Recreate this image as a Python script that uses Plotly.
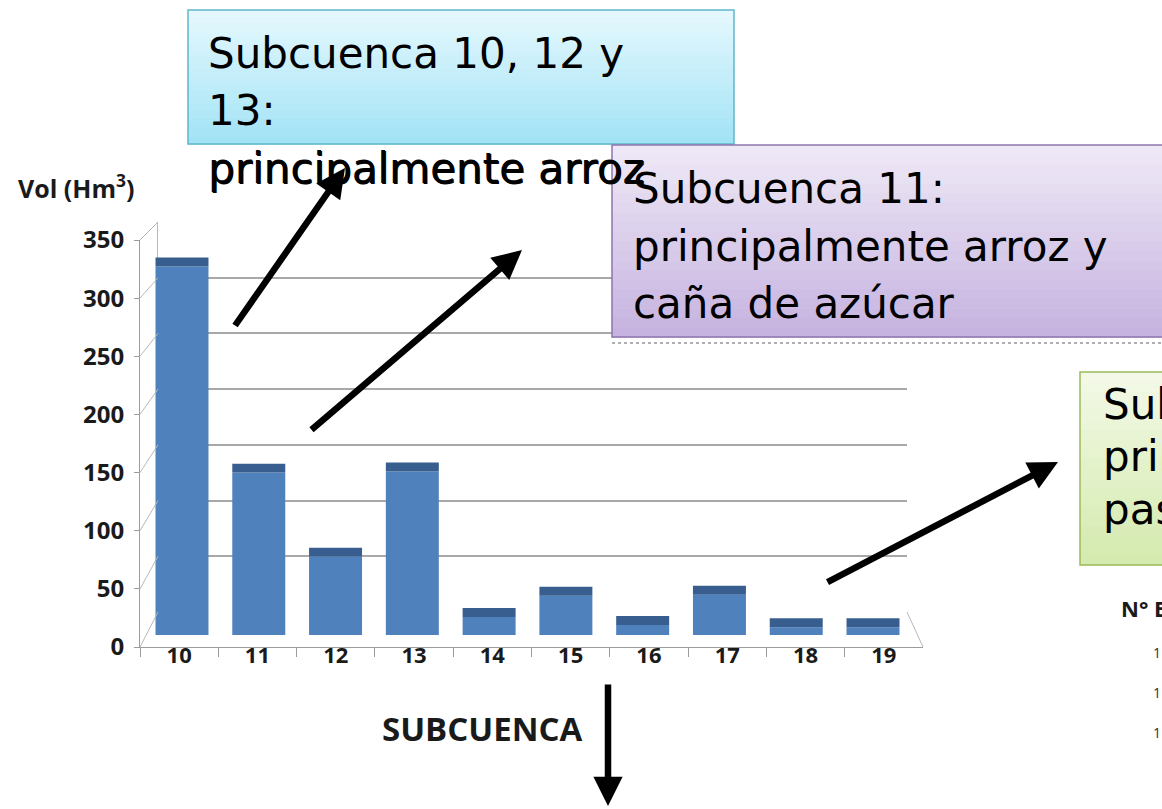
import plotly.graph_objects as go

# ---------------- data ----------------
subcuencas = ["10", "11", "12", "13", "14", "15", "16", "17", "18", "19"]
volumen = [329, 145, 70, 146, 16, 35, 9, 36, 7, 7]          # Vol (Hm3)
y_ticks = [0, 50, 100, 150, 200, 250, 300, 350]

box1_lines = ["Subcuenca 10, 12 y", "13:"]
box1_tail = "principalmente arroz"
box2_lines = ["Subcuenca 11:", "principalmente arroz y", "caña de azúcar"]
box3_lines = ["Subcuenca 14 a 19:", "principalmente", "pastos"]

# ---------------- helpers ----------------
W, H = 1162, 809
def px(x):
    return x / W
def py(y):
    return 1 - y / H

CAP = 8            # thickness of the bar top (style)
FRONT = "#4F81BD"
TOP = "#385E8F"
GRID = "#A8A8A8"
AX = "#9C9C9C"

fig = go.Figure()

fig.add_trace(go.Scatter(x=subcuencas, y=[None] * len(subcuencas), xaxis="x", yaxis="y",
                         mode="markers", showlegend=False, hoverinfo="skip"))
fig.add_trace(go.Bar(x=subcuencas, y=volumen, xaxis="x2", yaxis="y2", width=0.69,
                     marker=dict(color=FRONT, line=dict(width=0)), showlegend=False))
fig.add_trace(go.Bar(x=subcuencas, y=[CAP] * len(subcuencas), base=volumen, xaxis="x2", yaxis="y2",
                     width=0.69, marker=dict(color=TOP, line=dict(width=0)), showlegend=False,
                     hoverinfo="skip"))
fig.add_trace(go.Scatter(x=subcuencas, y=[None] * len(subcuencas), xaxis="x3", yaxis="y3",
                         mode="markers", showlegend=False, hoverinfo="skip"))

ytick_font = dict(family="Open Sans", size=24, color="#1a1a1a", weight="bold")
xtick_font = dict(family="Open Sans", size=22, color="#1a1a1a", weight="bold")

fig.update_layout(
    width=W, height=H, autosize=False,
    margin=dict(l=0, r=0, t=0, b=0, pad=0, autoexpand=False),
    paper_bgcolor="white", plot_bgcolor="rgba(0,0,0,0)",
    barmode="overlay", showlegend=False,
    xaxis=dict(domain=[px(158), px(907)], type="category", range=[-0.5, 9.5],
               visible=False, anchor="y"),
    yaxis=dict(domain=[py(612), py(222)], range=[0, 350], tickvals=y_ticks,
               showticklabels=False, ticks="", showgrid=True, gridcolor=GRID, gridwidth=1.6,
               zeroline=False, showline=True, linecolor="#B8B8B8", linewidth=1, anchor="x"),
    xaxis2=dict(domain=[px(143.6), px(911.4)], type="category", range=[-0.5, 9.5],
                visible=False, anchor="y2"),
    yaxis2=dict(domain=[py(635), py(243)], range=[0, 350], visible=False, anchor="x2"),
    xaxis3=dict(domain=[px(140), px(923)], type="category", range=[-0.5, 9.5],
                showline=True, linecolor=AX, linewidth=1, ticks="outside", tickson="boundaries",
                ticklen=9, tickcolor=AX, tickfont=xtick_font, ticklabelstandoff=-11,
                showgrid=False, zeroline=False, anchor="y3", automargin=False),
    yaxis3=dict(domain=[py(647), py(240)], range=[0, 350], tickvals=y_ticks,
                showline=True, linecolor=AX, linewidth=1, ticks="outside", ticklen=5,
                tickcolor=AX, tickfont=ytick_font, ticklabelstandoff=5,
                showgrid=False, zeroline=False, anchor="x3", automargin=False),
)

shapes = []

def y_front(v):
    return 647 - v * (407 / 350)
def y_back(v):
    return 612 - v * (390 / 350)
for v in y_ticks:
    shapes.append(dict(type="line", xref="paper", yref="paper",
                       x0=px(140), y0=py(y_front(v)), x1=px(158), y1=py(y_back(v)),
                       line=dict(color="#B8B8B8", width=1)))
shapes.append(dict(type="line", xref="paper", yref="paper",
                   x0=px(907), y0=py(y_back(0)), x1=px(923), y1=py(y_front(0)),
                   line=dict(color="#B8B8B8", width=1)))


def hexrgb(h):
    h = h.lstrip("#")
    return tuple(int(h[i:i + 2], 16) for i in (0, 2, 4))


def gradient_box(x0, y0, x1, y1, ctop, cbot, border, n=20):
    a, b = hexrgb(ctop), hexrgb(cbot)
    step = (y1 - y0) / n
    for i in range(n):
        t = i / (n - 1)
        c = tuple(round(a[k] + (b[k] - a[k]) * t) for k in range(3))
        shapes.append(dict(type="rect", xref="paper", yref="paper",
                           x0=px(x0), x1=px(x1), y0=py(y0 + i * step), y1=py(y0 + (i + 1) * step + 0.6),
                           fillcolor="rgb(%d,%d,%d)" % c, line=dict(width=0)))
    shapes.append(dict(type="rect", xref="paper", yref="paper",
                       x0=px(x0), x1=px(x1), y0=py(y0), y1=py(y1),
                       fillcolor="rgba(0,0,0,0)", line=dict(color=border, width=1.5)))


gradient_box(188, 10, 734, 144, "#E4F8FD", "#A3E3F6", "#5FB6CC")
gradient_box(612, 145, 1175, 337, "#EEE8F6", "#C6B3E0", "#8E74B0")
gradient_box(1080, 372, 1175, 565, "#F3F9E6", "#D4EAAE", "#9BBB59")
shapes.append(dict(type="line", xref="paper", yref="paper", x0=px(612), x1=1.0,
                   y0=py(343), y1=py(343), line=dict(color="#606060", width=1, dash="dot")))

fig.update_layout(shapes=shapes)

ann = []
arrows = [((345, 168), (234, 327)),
          ((522, 250), (310, 431)),
          ((1058, 462), (826, 583)),
          ((608, 806), (608, 683))]
for (tx, ty), (sx, sy) in arrows:
    ann.append(dict(xref="paper", yref="paper", x=px(tx), y=py(ty), ax=sx - tx, ay=sy - ty,
                    text="", showarrow=True, arrowhead=2, arrowsize=0.9, arrowwidth=6.5,
                    arrowcolor="black", standoff=0))

box_font = dict(family="DejaVu Sans", size=42, color="black")


def line_text(txt, x, baseline, dx=0, dy=0):
    ann.append(dict(xref="paper", yref="paper", x=px(x + dx), y=py(baseline - 14.5 + dy),
                    xanchor="left", yanchor="middle", text=txt, showarrow=False,
                    font=box_font))


for i, t in enumerate(box1_lines):
    line_text(t, 206, [68, 125][i])
line_text(box1_tail, 206, 183)
line_text(box1_tail, 206, 183, dx=1.2, dy=1.0)
for i, t in enumerate(box2_lines):
    line_text(t, 631, [203, 261, 318][i])
for i, t in enumerate(box3_lines):
    line_text(t, 1101, [419, 471, 524][i])

ann.append(dict(xref="paper", yref="paper", x=px(76), y=py(186), xanchor="center", yanchor="middle",
                text="<b>Vol (Hm<sup>3</sup>)</b>", showarrow=False,
                font=dict(family="Open Sans", size=25, color="#1a1a1a")))
ann.append(dict(xref="paper", yref="paper", x=px(482), y=py(728), xanchor="center", yanchor="middle",
                text="<b>SUBCUENCA</b>", showarrow=False,
                font=dict(family="Open Sans", size=33, color="#1a1a1a")))
ann.append(dict(xref="paper", yref="paper", x=px(1119), y=py(608), xanchor="left", yanchor="middle",
                text="<b>N° E</b>", showarrow=False,
                font=dict(family="Open Sans", size=22, color="#1a1a1a")))
for yy in [652, 692, 732]:
    ann.append(dict(xref="paper", yref="paper", x=px(1151), y=py(yy), xanchor="left", yanchor="middle",
                    text="1", showarrow=False, font=dict(family="Open Sans", size=14, color="#333333")))

fig.update_layout(annotations=ann)

fig.write_html("out.html", config={"displayModeBar": False},
               post_script="document.body.style.margin='0';")
